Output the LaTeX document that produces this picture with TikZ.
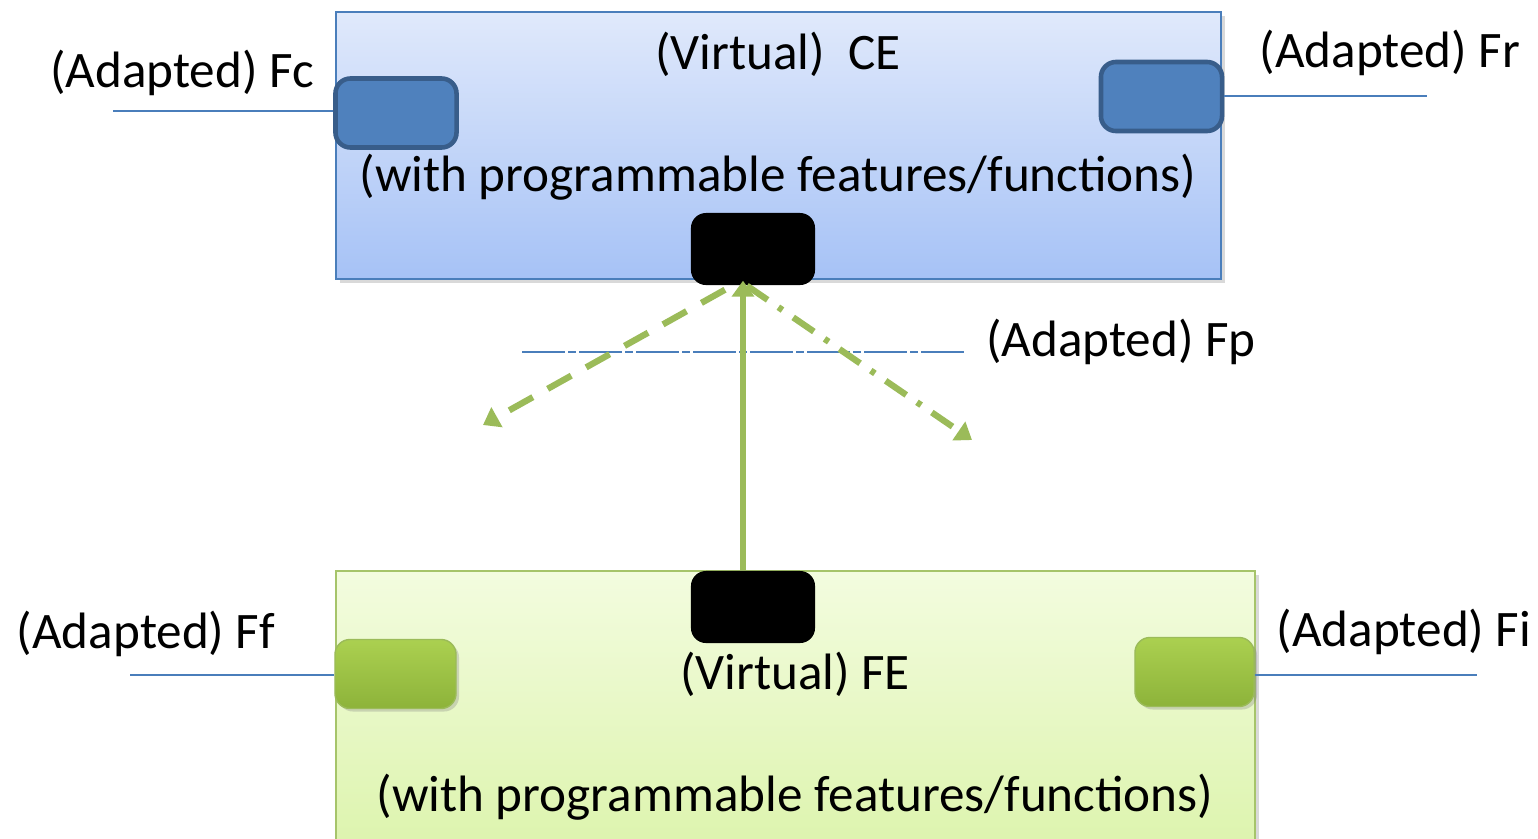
\documentclass[tikz,border=0pt]{standalone}
\usepackage{fontspec}
\setmainfont{Carlito}
\usetikzlibrary{arrows.meta,shadows}

\definecolor{ceTop}{HTML}{E0E9FB}
\definecolor{ceBot}{HTML}{A6C2F6}
\definecolor{ceLine}{HTML}{4A7EBB}
\definecolor{feTop}{HTML}{F3FCDF}
\definecolor{feBot}{HTML}{DDF4AE}
\definecolor{feLine}{HTML}{A6C46A}
\definecolor{portBlue}{HTML}{4F81BD}
\definecolor{portBlueLine}{HTML}{385D8A}
\definecolor{portGreenTop}{HTML}{ABD050}
\definecolor{portGreenBot}{HTML}{8DB33A}
\definecolor{linkGreen}{HTML}{9BBB59}

\begin{document}
\begin{tikzpicture}[x=0.01cm, y=-0.01cm,
        font=\fontsize{14.55}{17}\selectfont,
        box/.style={rectangle, line width=.6pt, inner sep=0pt,
          drop shadow={shadow xshift=.04cm, shadow yshift=-.04cm, opacity=.3}},
        port/.style={rectangle, rounded corners=.15cm, inner sep=0pt,
          minimum width=1.21cm, minimum height=.69cm},
        bluePort/.style={port, fill=portBlue, draw=portBlueLine, line width=1.3pt},
        greenPort/.style={port, top color=portGreenTop, bottom color=portGreenBot,
          draw=linkGreen, line width=.4pt,
          drop shadow={shadow xshift=.03cm, shadow yshift=-.03cm, opacity=.3}},
        blackPort/.style={port, fill=black, minimum width=1.24cm, minimum height=.72cm},
        lbl/.style={inner sep=0pt},
        wire/.style={draw=ceLine, line width=.5pt},
        link/.style={draw=linkGreen, line width=1.8pt,
          -{Triangle[length=.16cm, width=.22cm]}}]

      \useasboundingbox (0,0) rectangle (1538,839);

      % CE
      \node[box, draw=ceLine, top color=ceTop, bottom color=ceBot,
        minimum width=8.85cm, minimum height=2.67cm] (ce) at (778.5,145.5) {};
      \node[lbl] (ceName) at (778,54) {(Virtual)\ \ CE};
      \node[lbl] (ceFun) at (778,177) {(with programmable features/functions)};
      \node[bluePort] (fc) at (396,113) {};
      \node[bluePort] (fr) at (1161.5,96.5) {};
      \node[blackPort] (cePort) at (753,249) {};

      % FE
      \node[box, draw=feLine, top color=feTop, bottom color=feBot,
        minimum width=9.19cm, minimum height=2.74cm] (fe) at (795.5,708) {};
      \node[lbl] (feName) at (795,674) {(Virtual) FE};
      \node[lbl] (feFun) at (795,797) {(with programmable features/functions)};
      \node[greenPort] (ff) at (395.5,674) {};
      \node[greenPort, minimum width=1.19cm] (fi) at (1194.5,672) {};
      \node[blackPort] (fePort) at (753,607) {};

      % reference points
      \node[lbl] (fcLbl) at (182,73) {(Adapted) Fc};
      \node[lbl] (frLbl) at (1390,53) {(Adapted) Fr};
      \node[lbl] (fpLbl) at (1121,342) {(Adapted) Fp};
      \node[lbl] (ffLbl) at (146,634) {(Adapted) Ff};
      \node[lbl] (fiLbl) at (1404,632) {(Adapted) Fi};

      \coordinate (fcEnd) at (113,111);
      \coordinate (frEnd) at (1427,96);
      \coordinate (ffEnd) at (130,675);
      \coordinate (fiEnd) at (1477,675);
      \coordinate (fpStart) at (522,352);
      \coordinate (fpEnd) at (966,352);

      \draw[wire] (fcEnd) -- (fcEnd -| fc.west);
      \draw[wire] (fr.east |- frEnd) -- (frEnd);
      \draw[wire] (ffEnd) -- (ffEnd -| ff.west);
      \draw[wire] (fi.east |- fiEnd) -- (fiEnd);
      \draw[wire, dash pattern=on .43cm off .03cm on .08cm off .03cm] (fpStart) -- (fpEnd);

      % links between CE and FE
      \coordinate (tipL) at (483,425);
      \coordinate (tipR) at (972,440);
      \draw[link] ([xshift=-.1cm]fePort.north) -- ([xshift=-.1cm, yshift=.05cm]cePort.south);
      \draw[link, dash pattern=on .27cm off .17cm]
        ([xshift=-.28cm, yshift=-.04cm]cePort.south) -- (tipL);
      \draw[link, dash pattern=on .25cm off .13cm on .05cm off .13cm]
        ([xshift=-.06cm]cePort.south) -- (tipR);
    \end{tikzpicture}
\end{document}
